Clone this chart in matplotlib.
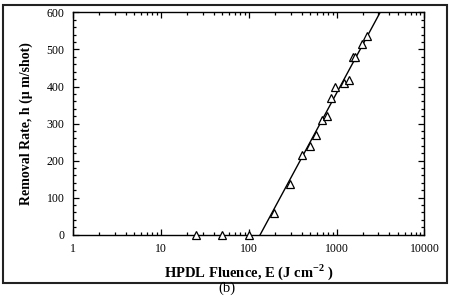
import matplotlib.pyplot as plt
from matplotlib.patches import Rectangle
from matplotlib.ticker import MultipleLocator, FixedLocator, NullFormatter

# measured removal rate vs HPDL fluence
fluence = [25, 50, 100, 195, 297, 399, 492, 586, 686, 775, 867, 964,
           1219, 1403, 1531, 1641, 1936, 2208]
rate = [0, 0, 0, 59, 138, 214, 240, 269, 311, 320, 370, 399,
        410, 418, 479, 481, 516, 537]

# fitted line (straight on semi-log axes)
fit_fluence = [135, 3130]
fit_rate = [0, 600]

xticks = [1, 10, 100, 1000, 10000]
xticklabels = ['1', '10', '100', '1000', '10000']
yticks = [0, 100, 200, 300, 400, 500, 600]


def main():
    plt.rcParams['font.family'] = ['Liberation Serif', 'DejaVu Serif']
    plt.rcParams['mathtext.fontset'] = 'custom'
    plt.rcParams['mathtext.rm'] = 'Liberation Serif'
    plt.rcParams['mathtext.bf'] = 'Liberation Serif:bold'

    fig = plt.figure(figsize=(4.52, 2.96), dpi=100)
    ax = fig.add_axes([0.1615, 0.207, 0.7775, 0.751])

    ax.plot(fit_fluence, fit_rate, color='black', lw=1.0)
    ax.plot(fluence, rate, linestyle='none', marker='^', ms=5.5,
            mfc='white', mec='black', mew=0.9, clip_on=False, zorder=3)

    ax.set_xscale('log')
    ax.set_xlim(1, 10000)
    ax.set_ylim(0, 600)
    ax.set_xticks(xticks)
    ax.set_xticklabels(xticklabels)
    ax.xaxis.set_minor_locator(FixedLocator(
        [m * 10 ** d for d in range(4) for m in range(2, 10)]))
    ax.xaxis.set_minor_formatter(NullFormatter())
    ax.set_yticks(yticks)
    ax.yaxis.set_minor_locator(MultipleLocator(20))

    ax.tick_params(which='both', direction='in', top=True, right=True,
                   labelsize=8.5, colors='black', width=0.9)
    ax.tick_params(which='major', length=4)
    ax.tick_params(which='minor', length=2.5)
    ax.tick_params(axis='x', which='major', pad=6)
    ax.tick_params(axis='y', which='major', pad=6)
    for s in ax.spines.values():
        s.set_linewidth(1.0)

    ax.set_xlabel('HPDL Fluence, E (J cm$^{\\mathbf{-2}}$ )', fontsize=10.5,
                  fontweight='bold', labelpad=5)
    ax.set_ylabel('Removal Rate, h (\u03bc m/shot)', fontsize=10,
                  fontweight='bold', labelpad=10)

    # outer frame around the figure panel
    fig.patches.append(Rectangle((0.007, 0.044), 0.982, 0.94,
                                 transform=fig.transFigure, fill=False,
                                 ec='#222222', lw=1.5))
    fig.text(0.503, 0.002, '(b)', ha='center', va='bottom', fontsize=10.5)

    fig.savefig('out.png', dpi=100)


if __name__ == '__main__':
    main()
